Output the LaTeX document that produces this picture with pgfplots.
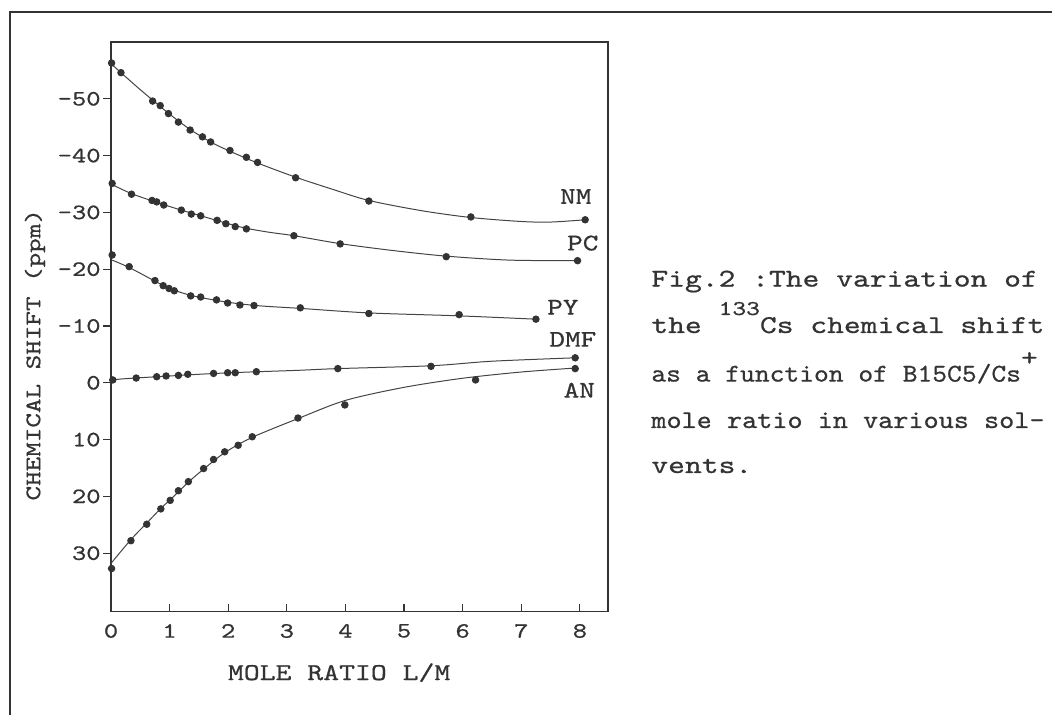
\documentclass[border=0pt]{standalone}
\usepackage{pgfplots}
\pgfplotsset{compat=1.18}
\usepackage{fontspec}
\usepackage{graphicx}
\setmainfont{lmmono10-regular.otf}[FakeStretch=1.25, FakeBold=0.7]
\definecolor{ink}{HTML}{333333}
\definecolor{linec}{HTML}{444444}
\begin{document}
\begin{tikzpicture}[x=1pt,y=1pt]
\useasboundingbox (0,0) rectangle (526,357.5);
\draw[ink, line width=1pt] (5,0) -- (5,351.5) -- (526,351.5);
\begin{axis}[
  at={(55.5pt,51.65pt)}, anchor=south west,
  scale only axis, width=248.5pt, height=284.85pt,
  xmin=0, xmax=8.48, ymin=-60, ymax=40.3, y dir=reverse,
  clip=false,
  axis line style={ink, line width=0.6pt},
  xtick={0,1,2,3,4,5,6,7,8}, xticklabels={0,1,2,3,4,5,6,7,8},
  ytick={-50,-40,-30,-20,-10,0,10,20,30},
  yticklabels={–50,–40,–30,–20,–10,0,10,20,30},
  tick pos=left, tick align=outside, major tick length=4pt,
  tick style={ink, line width=0.6pt},
  xtick style={yshift=4pt},
  tick label style={font=\fontsize{10.9}{13}\selectfont, text=ink},
  xticklabel style={inner sep=2pt},
  yticklabel style={inner sep=1pt},
  xlabel={MOLE RATIO L/M},
  ylabel={CHEMICAL SHIFT (ppm)},
  xlabel style={at={(axis description cs:0.459,-0.107)}, anchor=center, font=\fontsize{12.1}{14}\selectfont, text=ink},
  ylabel style={at={(axis description cs:-0.153,0.451)}, anchor=center, font=\fontsize{11.1}{13}\selectfont, text=ink},
  every axis plot/.append style={line width=0.5pt},
]
% fitted curves
\addplot[linec, smooth, no marks] coordinates {(0,-56.2)(0.17,-54.6)(0.5,-51.6)(0.8,-49.0)(1.0,-47.3)(1.35,-44.6)(1.7,-42.4)(2.0,-40.9)(2.5,-38.7)(3.15,-36.2)(3.8,-34.0)(4.4,-32.1)(5.3,-30.3)(6.14,-29.1)(7.0,-28.4)(7.5,-28.3)(8.09,-28.7)};
\addplot[linec, smooth, no marks] coordinates {(0,-35.0)(0.35,-33.3)(0.8,-31.7)(1.2,-30.4)(1.6,-29.2)(2.0,-28.0)(2.31,-27.2)(2.7,-26.5)(3.12,-25.9)(3.91,-24.5)(4.8,-23.3)(5.72,-22.3)(6.8,-21.6)(7.96,-21.5)};
\addplot[linec, smooth, no marks] coordinates {(0.02,-21.6)(0.31,-20.3)(0.75,-17.9)(1.0,-16.6)(1.36,-15.4)(1.8,-14.5)(2.2,-13.9)(2.6,-13.5)(3.23,-13.1)(4.4,-12.3)(5.9,-11.8)(7.25,-11.2)};
\addplot[linec, smooth, no marks] coordinates {(0,-0.3)(0.1,-0.6)(0.43,-0.85)(1.0,-1.2)(1.5,-1.5)(2.0,-1.75)(2.5,-1.95)(3.2,-2.2)(3.87,-2.5)(5.46,-3.0)(6.5,-3.8)(7.92,-4.4)};
\addplot[linec, smooth, no marks] coordinates {(0,31.8)(0.34,27.6)(0.61,24.7)(0.85,22.1)(1.01,20.6)(1.32,17.5)(1.58,15.2)(1.94,12.3)(2.41,9.6)(3.19,6.3)(4.0,3.1)(5.0,0.8)(6.0,-0.8)(7.0,-1.9)(7.92,-2.6)};
% data points
\addplot[only marks, mark=*, mark size=1.6pt, ink] coordinates {(0.01,-56.3)(0.17,-54.6)(0.71,-49.6)(0.84,-48.8)(0.98,-47.4)(1.15,-45.9)(1.35,-44.5)(1.56,-43.3)(1.70,-42.4)(2.03,-40.9)(2.31,-39.7)(2.50,-38.8)(3.15,-36.1)(4.40,-32.0)(6.14,-29.2)(8.09,-28.7)};
\addplot[only marks, mark=*, mark size=1.6pt, ink] coordinates {(0.02,-35.1)(0.35,-33.2)(0.70,-32.1)(0.78,-31.85)(0.90,-31.3)(1.20,-30.4)(1.37,-29.7)(1.53,-29.4)(1.81,-28.6)(1.96,-28.0)(2.12,-27.5)(2.31,-27.1)(3.12,-25.9)(3.91,-24.45)(5.72,-22.2)(7.96,-21.5)};
\addplot[only marks, mark=*, mark size=1.6pt, ink] coordinates {(0.02,-22.5)(0.31,-20.45)(0.75,-18.0)(0.89,-17.1)(0.99,-16.6)(1.08,-16.2)(1.36,-15.3)(1.53,-15.1)(1.80,-14.6)(1.99,-14.05)(2.20,-13.7)(2.44,-13.6)(3.23,-13.2)(4.40,-12.2)(5.94,-12.0)(7.25,-11.2)};
\addplot[only marks, mark=*, mark size=1.6pt, ink] coordinates {(0.03,-0.5)(0.43,-0.84)(0.78,-1.07)(0.94,-1.2)(1.15,-1.3)(1.31,-1.5)(1.75,-1.65)(1.99,-1.77)(2.12,-1.77)(2.48,-1.95)(3.87,-2.5)(5.46,-2.9)(7.92,-4.4)};
\addplot[only marks, mark=*, mark size=1.6pt, ink] coordinates {(0.01,32.7)(0.34,27.8)(0.61,24.9)(0.85,22.2)(1.01,20.7)(1.15,19.0)(1.32,17.4)(1.58,15.1)(1.75,13.5)(1.94,12.15)(2.17,11.0)(2.41,9.5)(3.19,6.2)(3.99,3.9)(6.22,-0.5)(7.92,-2.5)};
% series names
\begin{scope}[every node/.style={font=\fontsize{11.9}{14}\selectfont, text=ink, inner sep=0pt}]
\node at (axis cs:7.93,-32.8) {NM};
\node at (axis cs:8.05,-24.6) {PC};
\node at (axis cs:7.71,-13.3) {PY};
\node at (axis cs:7.88,-7.65) {DMF};
\node at (axis cs:7.99,1.3) {AN};
\end{scope}
\end{axis}
\begin{scope}[every node/.style={anchor=base west, inner sep=0pt, font=\fontsize{12.8}{15}\selectfont, text=ink}]
\node at (325.5,214.2) {Fig.2 :The variation of};
\node at (325.5,191) {\hbox to 196.5pt{the \raisebox{9pt}{\fontsize{10.5}{12}\selectfont 133}Cs chemical\hfill shift}};
\node at (325.5,166.7) {\scalebox{0.88}[1]{as a function of B15C5/Cs}\raisebox{8pt}{+}};
\node at (325.5,143.5) {\scalebox{0.9}[1]{mole ratio in various sol-}};
\node at (325.5,121) {vents.};
\end{scope}
\end{tikzpicture}
\end{document}
